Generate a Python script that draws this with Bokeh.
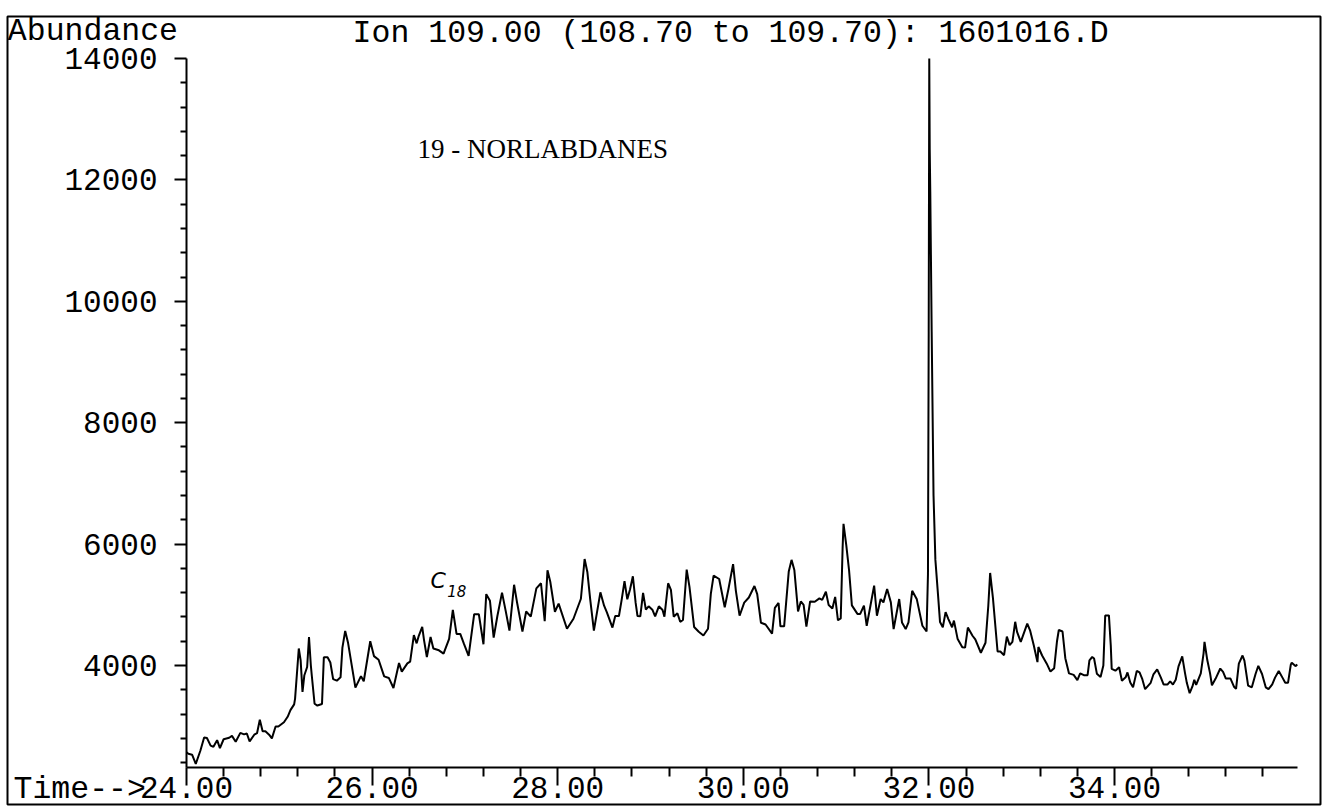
from bokeh.plotting import figure
from bokeh.models import FixedTicker, NumeralTickFormatter, Label, Range1d
from bokeh.embed import file_html
from bokeh.resources import INLINE

# ---------------- data ----------------
time_min = [
    24.00, 24.02, 24.06, 24.10, 24.15, 24.19, 24.22, 24.26, 24.29, 24.33,
    24.36, 24.40, 24.46, 24.49, 24.53, 24.58, 24.62, 24.65, 24.68, 24.73,
    24.76, 24.79, 24.82, 24.85, 24.89, 24.92, 24.96, 24.99, 25.05, 25.09,
    25.12, 25.16, 25.17, 25.21, 25.23, 25.25, 25.27, 25.30, 25.32, 25.34,
    25.35, 25.38, 25.41, 25.46, 25.48, 25.52, 25.55, 25.58, 25.62, 25.66,
    25.68, 25.71, 25.74, 25.77, 25.82, 25.88, 25.91, 25.98, 26.02, 26.07,
    26.13, 26.18, 26.23, 26.29, 26.32, 26.38, 26.41, 26.45, 26.48, 26.50,
    26.54, 26.56, 26.59, 26.63, 26.66, 26.72, 26.77, 26.83, 26.87, 26.91,
    26.95, 26.99, 27.04, 27.10, 27.15, 27.20, 27.23, 27.27, 27.31, 27.35,
    27.40, 27.44, 27.48, 27.53, 27.56, 27.62, 27.66, 27.71, 27.77, 27.82,
    27.86, 27.89, 27.92, 27.97, 28.01, 28.10, 28.17, 28.25, 28.29, 28.32,
    28.35, 28.39, 28.46, 28.50, 28.53, 28.59, 28.62, 28.66, 28.69, 28.72,
    28.75, 28.78, 28.81, 28.84, 28.86, 28.89, 28.92, 28.95, 28.98, 29.02,
    29.05, 29.09, 29.13, 29.15, 29.19, 29.22, 29.25, 29.29, 29.32, 29.35,
    29.39, 29.42, 29.47, 29.52, 29.57, 29.62, 29.65, 29.68, 29.74, 29.80,
    29.84, 29.89, 29.92, 29.96, 30.01, 30.06, 30.12, 30.15, 30.19, 30.24,
    30.31, 30.34, 30.38, 30.40, 30.44, 30.49, 30.52, 30.55, 30.59, 30.62,
    30.65, 30.68, 30.72, 30.77, 30.82, 30.85, 30.89, 30.92, 30.96, 30.99,
    31.02, 31.05, 31.07, 31.08, 31.11, 31.14, 31.17, 31.23, 31.26, 31.30,
    31.33, 31.37, 31.41, 31.44, 31.48, 31.51, 31.55, 31.59, 31.62, 31.68,
    31.71, 31.75, 31.78, 31.82, 31.87, 31.93, 31.975, 31.99, 31.998, 32.004,
    32.009, 32.015, 32.03, 32.05, 32.07, 32.10, 32.12, 32.15, 32.18, 32.21,
    32.25, 32.27, 32.31, 32.36, 32.39, 32.42, 32.47, 32.50, 32.56, 32.61,
    32.64, 32.66, 32.69, 32.74, 32.77, 32.81, 32.84, 32.87, 32.90, 32.93,
    32.95, 32.99, 33.06, 33.09, 33.13, 33.17, 33.18, 33.22, 33.27, 33.31,
    33.35, 33.38, 33.40, 33.44, 33.47, 33.51, 33.56, 33.60, 33.63, 33.67,
    33.71, 33.73, 33.76, 33.78, 33.81, 33.85, 33.88, 33.90, 33.94, 33.96,
    33.97, 34.01, 34.05, 34.08, 34.12, 34.14, 34.17, 34.20, 34.24, 34.27,
    34.30, 34.33, 34.39, 34.42, 34.46, 34.50, 34.53, 34.57, 34.60, 34.63,
    34.66, 34.69, 34.73, 34.76, 34.78, 34.81, 34.84, 34.86, 34.88, 34.93,
    34.96, 34.97, 35.00, 35.03, 35.05, 35.09, 35.14, 35.17, 35.20, 35.25,
    35.29, 35.31, 35.34, 35.38, 35.40, 35.44, 35.48, 35.52, 35.55, 35.59,
    35.63, 35.66, 35.70, 35.73, 35.77, 35.81, 35.84, 35.87, 35.90, 35.91,
    35.95, 35.97,
]

abundance = [
    2570, 2545, 2530, 2380, 2600, 2815, 2805, 2680, 2660, 2770,
    2640, 2785, 2810, 2840, 2745, 2890, 2865, 2880, 2750, 2860,
    2885, 3105, 2915, 2915, 2860, 2800, 2995, 2995, 3065, 3155,
    3265, 3360, 3455, 4280, 4085, 3565, 3840, 3975, 4470, 4000,
    3835, 3370, 3340, 3365, 4135, 4135, 4050, 3775, 3750, 3805,
    4295, 4570, 4380, 4100, 3635, 3825, 3740, 4400, 4155, 4095,
    3820, 3795, 3630, 4040, 3900, 4035, 4065, 4500, 4365, 4475,
    4635, 4415, 4140, 4470, 4280, 4250, 4195, 4440, 4915, 4520,
    4520, 4355, 4160, 4845, 4845, 4350, 5175, 5065, 4460, 4815,
    5200, 4895, 4575, 5330, 5055, 4560, 4890, 4805, 5270, 5355,
    4730, 5570, 5380, 4885, 5020, 4605, 4770, 5100, 5755, 5535,
    5095, 4575, 5205, 4985, 4875, 4625, 4815, 4815, 5090, 5390,
    5090, 5255, 5470, 5030, 4815, 4810, 5195, 4920, 4975, 4920,
    4810, 4975, 4915, 4805, 5355, 5245, 4805, 4860, 4720, 4750,
    5580, 5295, 4635, 4555, 4495, 4605, 5180, 5480, 5425, 4960,
    5260, 5670, 5230, 4820, 5035, 5120, 5310, 5175, 4705, 4675,
    4525, 4950, 5030, 4645, 4645, 5550, 5740, 5575, 4890, 5055,
    5000, 4640, 5055, 5050, 5105, 5080, 5215, 4995, 4940, 5130,
    4745, 4775, 5925, 6335, 5980, 5565, 4990, 4850, 4850, 4985,
    4655, 4985, 5315, 4820, 5095, 5040, 5260, 5040, 4600, 5095,
    4710, 4600, 4710, 5230, 5090, 4655, 4560, 5500, 9500, 14000,
    12500, 11800, 9500, 6800, 5740, 5130, 4715, 4630, 4880, 4765,
    4630, 4740, 4435, 4300, 4295, 4625, 4490, 4430, 4210, 4375,
    4980, 5525, 5115, 4230, 4230, 4170, 4475, 4335, 4390, 4720,
    4555, 4390, 4690, 4580, 4335, 4055, 4305, 4165, 4030, 3900,
    3955, 4395, 4585, 4560, 4120, 3870, 3845, 3760, 3870, 3840,
    3840, 4085, 4140, 4115, 3865, 3810, 4000, 4825, 4825, 4330,
    3945, 3915, 3970, 3750, 3805, 3885, 3720, 3640, 3910, 3885,
    3775, 3610, 3715, 3855, 3935, 3800, 3685, 3685, 3740, 3685,
    3765, 3985, 4150, 3875, 3710, 3545, 3655, 3765, 3680, 3870,
    4200, 4390, 4090, 3870, 3675, 3785, 3950, 3895, 3785, 3785,
    3645, 3615, 4030, 4165, 4080, 3670, 3640, 3860, 3995, 3860,
    3640, 3610, 3690, 3800, 3910, 3800, 3715, 3715, 4015, 4045,
    3990, 4015,
]

x_major_ticks = [24, 26, 28, 30, 32, 34]
x_minor_ticks = [24.4, 24.8, 25.2, 25.6, 26.4, 26.8, 27.2, 27.6, 28.4, 28.8,
                 29.2, 29.6, 30.4, 30.8, 31.2, 31.6, 32.4, 32.8, 33.2, 33.6,
                 34.4, 34.8, 35.2, 35.6]
y_major_ticks = [4000, 6000, 8000, 10000, 12000, 14000]
y_minor_ticks = [2400, 2800, 3200, 3600, 4400, 4800, 5200, 5600, 6400, 6800,
                 7200, 7600, 8400, 8800, 9200, 9600, 10400, 10800, 11200, 11600,
                 12400, 12800, 13200, 13600]

title_text = "Ion 109.00 (108.70 to 109.70): 1601016.D"
y_label_text = "Abundance"
x_label_text = "Time-->"
group_text = "19 - NORLABDANES"

MONO = "Liberation Mono"

# axis extents in data units
X0, X1 = 24.0, 35.97
Y0, Y1 = 2320, 14000

# ---------------- figure ----------------
p = figure(
    width=1327, height=807, title=None,
    x_range=Range1d(22.071, 36.220), y_range=Range1d(1710, 14692),
    output_backend="svg", toolbar_location=None,
    min_border_left=7, min_border_right=7,
    min_border_top=16, min_border_bottom=3,
)
p.outline_line_color = "black"
p.outline_line_width = 2
p.grid.visible = False
p.background_fill_color = "white"
p.border_fill_color = "white"

# x axis (drawn at a fixed data location inside the frame)
xa = p.xaxis[0]
xa.fixed_location = Y0
xa.ticker = FixedTicker(ticks=x_major_ticks, minor_ticks=x_minor_ticks)
xa.formatter = NumeralTickFormatter(format="0.00")
xa.bounds = (X0, X1)
xa.axis_line_width = 2
xa.major_tick_line_width = 2
xa.minor_tick_line_width = 2
xa.major_tick_in = 0
xa.major_tick_out = 18
xa.minor_tick_in = 0
xa.minor_tick_out = 9
xa.major_label_standoff = -8
xa.major_label_text_font = MONO
xa.major_label_text_font_size = "31px"
xa.major_label_text_color = "black"

# y axis
ya = p.yaxis[0]
ya.fixed_location = X0
ya.ticker = FixedTicker(ticks=y_major_ticks, minor_ticks=y_minor_ticks)
ya.formatter = NumeralTickFormatter(format="0")
ya.bounds = (Y0, Y1)
ya.axis_line_width = 2
ya.major_tick_line_width = 2
ya.minor_tick_line_width = 2
ya.major_tick_in = 0
ya.major_tick_out = 12
ya.minor_tick_in = 0
ya.minor_tick_out = 6
ya.major_label_standoff = 17
ya.major_label_text_font = MONO
ya.major_label_text_font_size = "31px"
ya.major_label_text_color = "black"

# trace
p.line(time_min, abundance, line_color="black", line_width=2)

# texts
def add_text(x, y, text, font=MONO, size="31px", style="normal"):
    p.add_layout(Label(x=x, y=y, text=text, text_font=font, text_font_size=size,
                       text_font_style=style, text_baseline="alphabetic",
                       text_align="left", text_color="black"))

add_text(22.075, 14444, y_label_text, size="31.5px")
add_text(25.79, 14412, title_text, size="31.5px")
add_text(22.136, 1958, x_label_text, size="31.5px")
add_text(26.49, 12501, group_text, font="Liberation Serif", size="27px")
add_text(26.63, 5398, "C", font="DejaVu Sans", size="22px", style="italic")
add_text(26.81, 5228, "18", font="DejaVu Sans", size="15px", style="italic")

open("out.html", "w").write(file_html(p, INLINE))
